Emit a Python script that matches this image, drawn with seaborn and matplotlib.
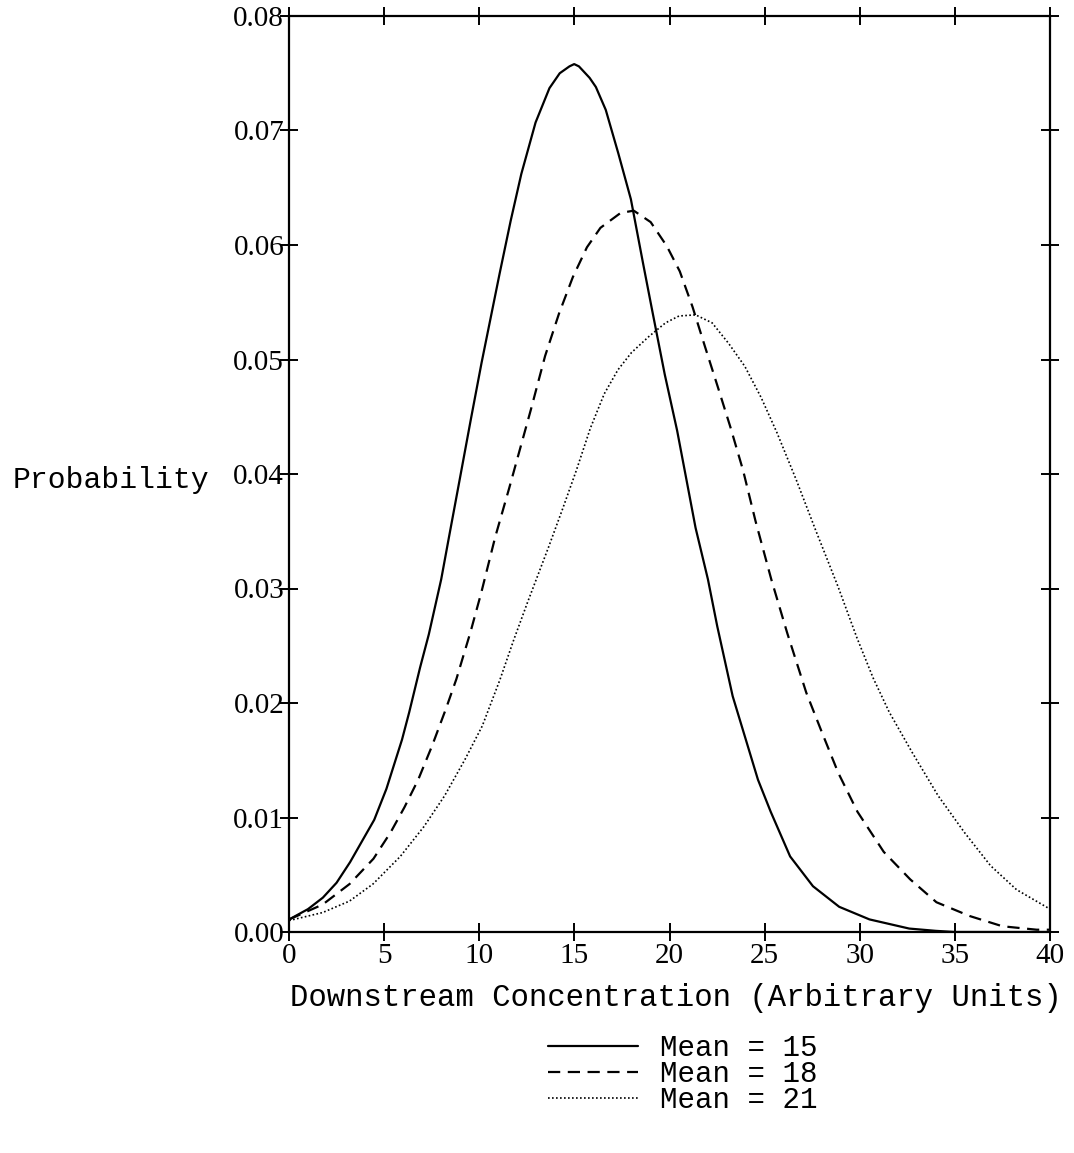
import numpy as np
import pandas as pd
import matplotlib
matplotlib.use("Agg")
import matplotlib.pyplot as plt
import seaborn as sns

# ---- data (x = concentration, y = probability) ----
x_mean15 = [0.01, 1.00, 1.78, 2.50, 3.21, 4.48, 5.12, 5.94, 6.32, 6.89, 7.35, 8.00, 8.41,
            8.97, 9.55, 10.12, 11.07, 11.65, 12.21, 12.96, 13.69, 14.23, 14.74, 14.99,
            15.24, 15.80, 16.13, 16.65, 17.31, 17.97, 18.61, 19.10, 19.75, 20.40, 20.88,
            21.37, 22.02, 22.51, 23.32, 23.83, 24.65, 25.32, 26.34, 27.54, 28.92, 30.51,
            32.60, 34.00, 35.00, 40.00]
y_mean15 = [0.0011, 0.0020, 0.0030, 0.0043, 0.0061, 0.0098, 0.0125, 0.0168, 0.0192, 0.0231,
            0.0260, 0.0308, 0.0345, 0.0395, 0.0447, 0.0497, 0.0575, 0.0621, 0.0662, 0.0707,
            0.0737, 0.0750, 0.0756, 0.0758, 0.0756, 0.0746, 0.0738, 0.0718, 0.0680, 0.0640,
            0.0584, 0.0542, 0.0487, 0.0438, 0.0396, 0.0353, 0.0308, 0.0267, 0.0206, 0.0178,
            0.0133, 0.0105, 0.0066, 0.0040, 0.0022, 0.0011, 0.0003, 0.0001, 0.0000, 0.0000]

x_mean18 = [0.01, 1.77, 3.19, 4.44, 5.34, 6.07, 6.79, 7.53, 8.25, 8.80, 9.54, 10.10, 10.84,
            11.58, 12.71, 13.46, 14.19, 14.92, 15.66, 16.37, 17.43, 18.12, 19.01,
            19.86, 20.54, 21.21, 21.87, 22.54, 23.20, 23.87, 24.52, 25.35, 26.19, 27.19,
            28.02, 28.87, 29.88, 31.26, 32.65, 34.03, 35.77, 37.50, 39.30, 40.00]
y_mean18 = [0.0011, 0.0024, 0.0042, 0.0064, 0.0087, 0.0109, 0.0133, 0.0163, 0.0195, 0.0221,
            0.0262, 0.0296, 0.0345, 0.0388, 0.0456, 0.0503, 0.0540, 0.0572, 0.0598,
            0.0615, 0.0628, 0.0630, 0.0620, 0.0599, 0.0577, 0.0546, 0.0511, 0.0476, 0.0441,
            0.0403, 0.0359, 0.0308, 0.0261, 0.0209, 0.0174, 0.0139, 0.0105, 0.0070, 0.0046,
            0.0026, 0.0014, 0.0005, 0.0002, 0.0002]

x_mean21 = [0.01, 1.77, 3.18, 4.42, 5.85, 7.09, 8.18, 9.26, 10.16, 11.08, 11.81, 12.54,
            13.09, 13.64, 14.37, 15.10, 15.84, 16.57, 17.29, 18.00, 18.91, 19.79, 20.50,
            21.37, 22.24, 23.11, 23.96, 24.81, 25.65, 26.66, 27.68, 28.85, 29.85, 30.70,
            31.55, 32.75, 34.12, 35.50, 36.87, 38.24, 40.00]
y_mean21 = [0.0010, 0.0017, 0.0027, 0.0042, 0.0066, 0.0092, 0.0119, 0.0151, 0.0180, 0.0220,
            0.0255, 0.0288, 0.0312, 0.0336, 0.0369, 0.0403, 0.0440, 0.0470, 0.0491, 0.0506,
            0.0520, 0.0532, 0.0538, 0.0539, 0.0532, 0.0514, 0.0494, 0.0467, 0.0436, 0.0395,
            0.0351, 0.0302, 0.0257, 0.0222, 0.0192, 0.0157, 0.0119, 0.0087, 0.0058, 0.0037,
            0.0020]

series_labels = ["Mean = 15", "Mean = 18", "Mean = 21"]
x_ticks = [0, 5, 10, 15, 20, 25, 30, 35, 40]
y_ticks = [0.00, 0.01, 0.02, 0.03, 0.04, 0.05, 0.06, 0.07, 0.08]

sns.set_theme(style="ticks")
plt.rcParams["font.family"] = ["Liberation Serif", "DejaVu Serif"]

W, H = 1074, 1153
fig = plt.figure(figsize=(W / 100, H / 100), dpi=100)
L, R, T, B = 289, 1050, 16, 932
ax = fig.add_axes([L / W, 1 - B / H, (R - L) / W, (B - T) / H])

sns.lineplot(x=x_mean15, y=y_mean15, ax=ax, color="black", lw=1.6,
             linestyle="-", label=series_labels[0], sort=False)
sns.lineplot(x=x_mean18, y=y_mean18, ax=ax, color="black", lw=1.6,
             linestyle=(0, (5.5, 3.4)), label=series_labels[1], sort=False)
sns.lineplot(x=x_mean21, y=y_mean21, ax=ax, color="black", lw=1.2,
             linestyle=(0, (1, 1.4)), label=series_labels[2], sort=False)

ax.set_xlim(0, 40)
ax.set_ylim(0, 0.08)
ax.set_xticks(x_ticks)
ax.set_yticks(y_ticks)
ax.set_xticklabels([str(t) for t in x_ticks])
ax.set_yticklabels([f"{t:.2f}" for t in y_ticks])
for sp in ax.spines.values():
    sp.set_visible(True)
    sp.set_color("black")
    sp.set_linewidth(1.6)
ax.tick_params(axis="both", which="both", direction="inout", length=13, width=1.4,
               color="black", labelsize=21, labelcolor="black",
               top=True, right=True, labeltop=False, labelright=False)
ax.tick_params(axis="y", pad=-3)
ax.tick_params(axis="x", pad=1.5)

mono = ["Liberation Mono", "DejaVu Sans Mono"]
ax.set_xlabel("Downstream Concentration (Arbitrary Units)", family=mono,
              fontsize=22.1, color="black", va="center")
ax.xaxis.set_label_coords(0.508, (B - 998) / (B - T))
ax.set_ylabel("Probability", family=mono, fontsize=21.4, color="black",
              rotation=0, ha="right", va="center")
ax.yaxis.set_label_coords((209 - L) / (R - L), (B - 480) / (B - T))

ax.get_legend().remove()
handles, labels = ax.get_legend_handles_labels()
leg = fig.legend(handles, labels, loc="upper left",
                 bbox_to_anchor=(548 / W, 1 - 1034 / H),
                 frameon=False, borderpad=0, borderaxespad=0,
                 handlelength=3.1, handletextpad=0.75, labelspacing=-0.06,
                 prop={"family": mono, "size": 21})
for t in leg.get_texts():
    t.set_color("black")

fig.savefig("out.png", dpi=100, facecolor="white")
